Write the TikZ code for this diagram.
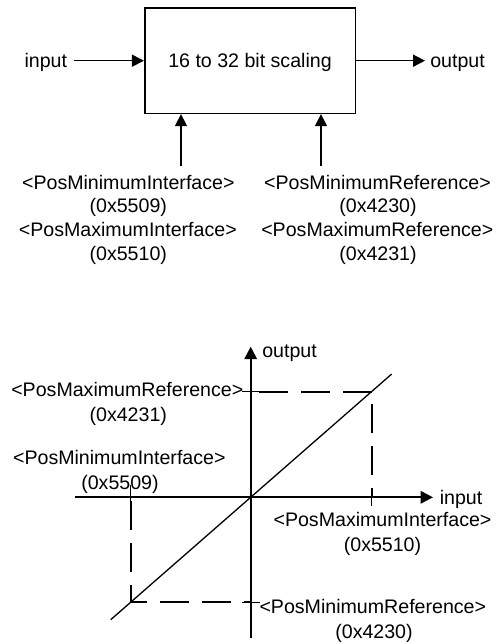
\documentclass[tikz,border=0pt]{standalone}
\usepackage{fontspec}
\setmainfont{Liberation Sans}
\usetikzlibrary{arrows.meta}
\begin{document}
\begin{tikzpicture}[x=1pt,y=-1pt,
  txt/.style={font=\fontsize{19.6}{23}\selectfont, inner sep=0pt, anchor=base},
  arr/.style={line width=1.5pt, -{Triangle[length=12pt,width=12pt]}},
  axisline/.style={line width=2pt, -{Triangle[length=12.5pt,width=12.5pt]}},
  dsh/.style={line width=2pt, dash pattern=on 29pt off 13pt},
  tk/.style={line width=1.3pt},
  diagline/.style={line width=1.3pt}]
\useasboundingbox (0,0) rectangle (495,642);
% ---------- block diagram ----------
\node[draw, line width=1.6pt, minimum width=210.6pt, minimum height=105.3pt,
  inner sep=0pt, text height=14pt, text depth=0pt,
  font=\fontsize{19.6}{23}\selectfont] (box) at (250,60.7) {16 to 32 bit scaling};
\node[txt] (in) at (45.8,67.3) {input};
\node[txt] (out) at (457.5,67.3) {output};
\draw[arr, shorten <=7pt] (in.east |- box.west) -- (box.west);
\draw[arr, shorten >=5pt] (box.east) -- (out.west |- box.east);
\coordinate (a1) at (181,165.7);
\coordinate (a2) at (321,165.7);
\draw[arr] (a1) -- (a1 |- box.south);
\draw[arr] (a2) -- (a2 |- box.south);
\node[txt] (l1) at (128.3,189.3) {<PosMinimumInterface>};
\node[txt] (l2) at (128.3,212.7) {(0x5509)};
\node[txt] (l3) at (127.8,236.2) {<PosMaximumInterface>};
\node[txt] (l4) at (128.3,260) {(0x5510)};
\node[txt] (r1) at (377.5,189.3) {<PosMinimumReference>};
\node[txt] (r2) at (378,212.7) {(0x4230)};
\node[txt] (r3) at (377.3,236.2) {<PosMaximumReference>};
\node[txt] (r4) at (378,260) {(0x4231)};
% ---------- graph ----------
\coordinate (O) at (250.7,497.3);
\coordinate (yb) at (250.7,638);
\coordinate (yt) at (250.7,346.7);
\coordinate (xl) at (75,497.3);
\coordinate (xr) at (433,497.3);
\coordinate (d1) at (110.7,619.7);
\coordinate (d2) at (391.7,374);
\coordinate (P1) at (371.7,391.5);
\coordinate (P2) at (130.7,602.2);
\coordinate (t1) at (P1 -| O);
\coordinate (t2) at (P1 |- O);
\coordinate (t3) at (P2 |- O);
\coordinate (t4) at (P2 -| O);
\draw[axisline] (yb) -- (yt);
\draw[axisline] (xl) -- (xr);
\draw[diagline] (d1) -- (d2);
\draw[dsh] (P1) -- (t1);
\draw[dsh, dash phase=20pt] (t2) -- (P1);
\draw[dsh, dash phase=12pt] (P2) -- (t3);
\draw[dsh, dash phase=13pt] (P2) -- (t4);
\draw[tk] ([xshift=-8.7pt]t1) -- ([xshift=8.5pt]t1);
\draw[tk] ([yshift=9pt]t2) -- ([yshift=-9pt]t2);
\draw[tk] ([yshift=12pt]t3) -- ([yshift=-6pt]t3);
\draw[tk] ([xshift=-9pt]t4) -- ([xshift=9pt]t4);
\node[txt] (yo) at (289.5,357) {output};
\node[txt] (xi) at (461,504) {input};
\node[txt] (g1) at (127.3,396) {<PosMaximumReference>};
\node[txt] (g2) at (128.3,421.7) {(0x4231)};
\node[txt] (g3) at (119.3,464) {<PosMinimumInterface>};
\node[txt] (g4) at (120,489.3) {(0x5509)};
\node[txt] (g5) at (382.5,526.7) {<PosMaximumInterface>};
\node[txt] (g6) at (382.5,551.7) {(0x5510)};
\node[txt] (g7) at (372.8,613.3) {<PosMinimumReference>};
\node[txt] (g8) at (374,638.3) {(0x4230)};
\end{tikzpicture}
\end{document}
